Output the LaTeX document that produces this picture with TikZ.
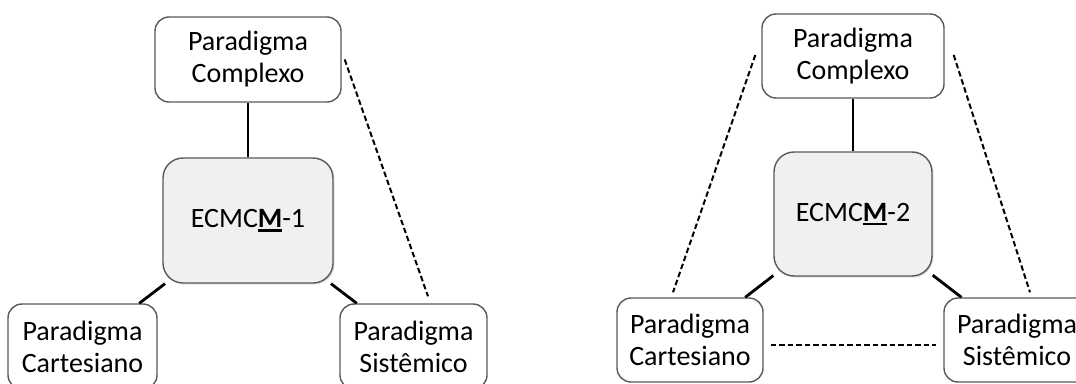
\documentclass[tikz,border=0pt]{standalone}
\usepackage{fontspec}
\setmainfont{Carlito}
\usetikzlibrary{calc,shadows}

% bold letter with a heavy underline
\newcommand\ulbold[1]{\setbox0\hbox{\textbf{#1}}\rlap{\rule[-4pt]{\wd0}{2.2pt}}\box0}

\tikzset{
  para/.style={draw=black!65, line width=1.4pt, rounded corners=14pt, fill=white,
    inner sep=0pt, align=center, font=\fontsize{28}{32}\selectfont},
  core/.style={para, fill=black!6, rounded corners=20pt,
    drop shadow={opacity=0.25, shadow xshift=1.5pt, shadow yshift=-1.5pt}},
  link/.style={line width=2.8pt, black},
  weak/.style={line width=2pt, black, dash pattern=on 5.5pt off 3pt},
}

\begin{document}
\begin{tikzpicture}[x=1pt, y=-1pt]
\useasboundingbox (0,0) rectangle (1076,383);
\clip (0,0) rectangle (1076,383);

% ---- model 1 ----
\node[para, minimum width=186pt, minimum height=85pt] (lc) at (248,59.5) {Paradigma\\Complexo};
\node[core, minimum width=170pt, minimum height=125pt] (lm) at (248,220.5) {ECMC\ulbold{M}-1};
\node[para, minimum width=149pt, minimum height=85pt] (lca) at (82.5,346.5) {Paradigma\\Cartesiano};
\node[para, minimum width=147pt, minimum height=85pt] (ls) at (413.5,346.5) {Paradigma\\Sistêmico};

\draw[link] (lc) -- (lm);
\draw[link] (lm) -- (lca);
\draw[link] (lm) -- (ls);

\coordinate (ld1) at ($(lc.east)+(3,0)$);
\coordinate (ld2) at ($(ls.north)+(14.5,-7)$);
\draw[weak] (ld1) -- (ld2);

% ---- model 2 ----
\node[para, minimum width=182pt, minimum height=84pt] (rc) at (853,56) {Paradigma\\Complexo};
\node[core, minimum width=158pt, minimum height=124pt] (rm) at (853,214) {ECMC\ulbold{M}-2};
\node[para, minimum width=146pt, minimum height=84pt] (rca) at (690,340) {Paradigma\\Cartesiano};
\node[para, minimum width=146pt, minimum height=84pt] (rs) at (1017,340) {Paradigma\\Sistêmico};

\draw[link] (rc) -- (rm);
\draw[link] (rm) -- (rca);
\draw[link] (rm) -- (rs);

\coordinate (rd1) at ($(rc.west)+(-6,-1)$);
\coordinate (rd2) at ($(rca.north)+(-17,-5)$);
\draw[weak] (rd1) -- (rd2);

\coordinate (rd3) at ($(rc.east)+(9,-1)$);
\coordinate (rd4) at ($(rs.north)+(13,-5)$);
\draw[weak] (rd3) -- (rd4);

\coordinate (rd5) at ($(rca.east)+(7,5)$);
\coordinate (rd6) at ($(rs.west)+(-7,5)$);
\draw[weak] (rd5) -- (rd6);
\end{tikzpicture}
\end{document}
